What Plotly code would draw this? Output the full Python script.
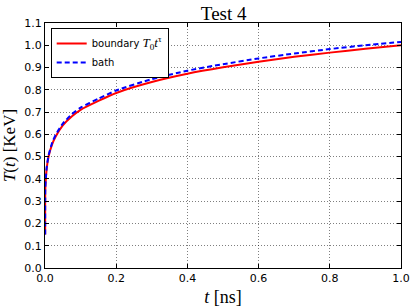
import plotly.graph_objects as go

# time samples [ns]
t_ns = [0.0005, 0.0008, 0.002, 0.005, 0.01, 0.02, 0.03, 0.05, 0.075, 0.1,
        0.15, 0.2, 0.3, 0.4, 0.5, 0.6, 0.7, 0.8, 0.9, 1.0]
# boundary temperature T0 t^tau [KeV]
T_boundary = [0.15, 0.35, 0.39, 0.45, 0.50, 0.555, 0.59, 0.64, 0.68, 0.71,
              0.75, 0.786, 0.835, 0.872, 0.901, 0.926, 0.948, 0.967, 0.984, 1.0]
# bath temperature [KeV]
T_bath = [0.15, 0.355, 0.395, 0.455, 0.505, 0.562, 0.598, 0.648, 0.69, 0.72,
          0.76, 0.797, 0.848, 0.886, 0.915, 0.941, 0.963, 0.983, 1.0, 1.015]

x_ticks = [0.0, 0.2, 0.4, 0.6, 0.8, 1.0]
y_ticks = [0.0, 0.1, 0.2, 0.3, 0.4, 0.5, 0.6, 0.7, 0.8, 0.9, 1.0, 1.1]

serif = "Liberation Serif"
sans = "DejaVu Sans"

fig = go.Figure()
fig.add_trace(go.Scatter(x=t_ns, y=T_boundary, mode="lines",
                         name="boundary <span style='font-family:Liberation Serif;font-size:13px'><i>T</i><sub>0</sub><i>t</i><sup>τ</sup></span>",
                         line=dict(color="#ff0000", width=2, shape="spline", smoothing=0.6)))
fig.add_trace(go.Scatter(x=t_ns, y=T_bath, mode="lines", name="bath",
                         line=dict(color="#0000ff", width=2, dash="5px,3px", shape="spline", smoothing=0.6)))

axis_common = dict(showline=True, linecolor="black", linewidth=1, mirror="ticks",
                   ticks="inside", ticklen=4, tickcolor="black",
                   showgrid=True, gridcolor="rgba(0,0,0,0.5)", griddash="1px,2px", gridwidth=1,
                   zeroline=False, automargin=False,
                   tickfont=dict(family=sans, size=11, color="black"))

fig.update_layout(
    width=415, height=308,
    margin=dict(l=45, r=14, t=23, b=40),
    paper_bgcolor="white", plot_bgcolor="white",
    title=dict(text="Test 4", x=0.539, xanchor="center", y=0.957, yanchor="middle",
               font=dict(family=serif, size=19, color="black")),
    xaxis=dict(range=[0, 1.0], tickvals=x_ticks, ticktext=[f"{v:.1f}" for v in x_ticks],
               title=dict(text="<i>t</i> [ns]", font=dict(family=serif, size=18, color="black"),
                          standoff=6),
               **axis_common),
    yaxis=dict(range=[0, 1.1], tickvals=y_ticks, ticktext=[f"{v:.1f}" for v in y_ticks],
               title=dict(text="<i>T</i>(<i>t</i>) [KeV]", font=dict(family=serif, size=17, color="black"),
                          standoff=20),
               **axis_common),
    legend=dict(x=0.016, y=0.98, xanchor="left", yanchor="top",
                bgcolor="white", bordercolor="black", borderwidth=1,
                font=dict(family=sans, size=10, color="black"),
                itemwidth=30, tracegroupgap=0),
    showlegend=True,
)

# remove the page's default body margin so the figure sits at the window origin
fig.write_html("out.html", config={"displayModeBar": False},
               post_script="document.body.style.margin='0';")
